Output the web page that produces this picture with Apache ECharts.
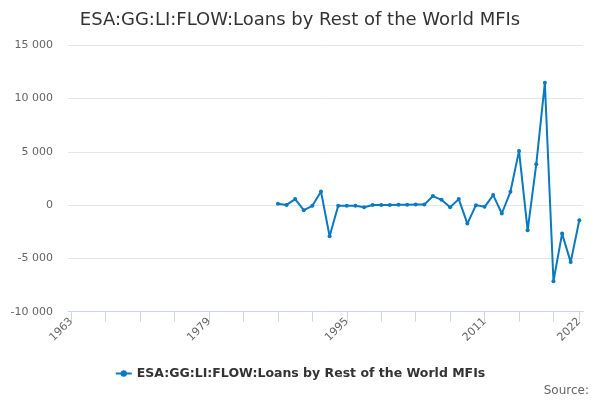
<!DOCTYPE html>
<html>
<head>
<meta charset="utf-8">
<script src="https://cdn.jsdelivr.net/npm/echarts@6/dist/echarts.min.js"></script>
<style>
html,body{margin:0;padding:0;background:#fff;}
#chart{width:600px;height:400px;}
</style>
</head>
<body>
<div id="chart"></div>
<script>
var titleText = 'ESA:GG:LI:FLOW:Loans by Rest of the World MFIs';
var seriesName = 'ESA:GG:LI:FLOW:Loans by Rest of the World MFIs';
var years = [1987,1988,1989,1990,1991,1992,1993,1994,1995,1996,1997,1998,1999,2000,2001,2002,2003,2004,2005,2006,2007,2008,2009,2010,2011,2012,2013,2014,2015,2016,2017,2018,2019,2020,2021,2022];
var values = [120,20,570,-470,-60,1290,-2920,-60,-60,-60,-190,10,20,20,30,40,50,50,850,500,-190,565,-1730,0,-160,940,-785,1255,5090,-2360,3835,11475,-7140,-2670,-5345,-1415];
var xTickYears = [1963,1967,1971,1975,1979,1983,1987,1991,1995,1999,2003,2007,2011,2015,2019,2022];
var xLabelYears = [1963,1979,1995,2011,2022];
var yTicks = [-10000,-5000,0,5000,10000,15000];

var data = years.map(function(y,i){return [y, values[i]];});
var font = 'DejaVu Sans';
function fmtThousands(v){
  var s = String(Math.abs(v)).replace(/\B(?=(\d{3})+(?!\d))/g, ' ');
  return (v < 0 ? '-' : '') + s;
}
var chart = echarts.init(document.getElementById('chart'), null, {renderer:'canvas'});
chart.setOption({
  animation:false,
  textStyle:{fontFamily:font},
  title:{
    text:titleText, left:'center', top:6,
    textStyle:{fontFamily:font, fontSize:18, fontWeight:'normal', color:'#333333'}
  },
  legend:{
    bottom:15, left:'center',
    itemWidth:16, itemHeight:8, itemGap:20,
    textStyle:{fontFamily:font, fontSize:12.5, fontWeight:'bold', color:'#333333'},
    data:[seriesName]
  },
  graphic:[{
    type:'text', right:11, bottom:3,
    style:{text:'Source:', fontFamily:font, fontSize:12, fill:'#666666'}
  }],
  grid:{left:68, right:16.7, top:45.3, bottom:88.3, containLabel:false},
  xAxis:{
    type:'value',
    min:1962.617, max:2022.465,
    splitLine:{show:false},
    axisLine:{show:true, onZero:false, lineStyle:{color:'#ccd6eb', width:1}},
    axisTick:{show:true, length:10, lineStyle:{color:'#ccd6eb'}, customValues:xTickYears},
    axisLabel:{
      customValues:xLabelYears, rotate:45, margin:8,
      fontFamily:font, fontSize:11, color:'#666666',
      formatter:function(v){return String(v);}
    }
  },
  yAxis:{
    type:'value',
    min:yTicks[0], max:yTicks[yTicks.length-1], interval:5000,
    axisLine:{show:false}, axisTick:{show:false},
    splitLine:{lineStyle:{color:'#e6e6e6', width:1}},
    axisLabel:{fontFamily:font, fontSize:11, color:'#666666', margin:15,
      formatter:function(v){return fmtThousands(v);}}
  },
  series:[{
    name:seriesName, type:'line', data:data,
    symbol:'circle', symbolSize:4, showSymbol:true,
    lineStyle:{color:'#0a79c1', width:2},
    itemStyle:{color:'#0a79c1'}
  }]
});
</script>
</body>
</html>
